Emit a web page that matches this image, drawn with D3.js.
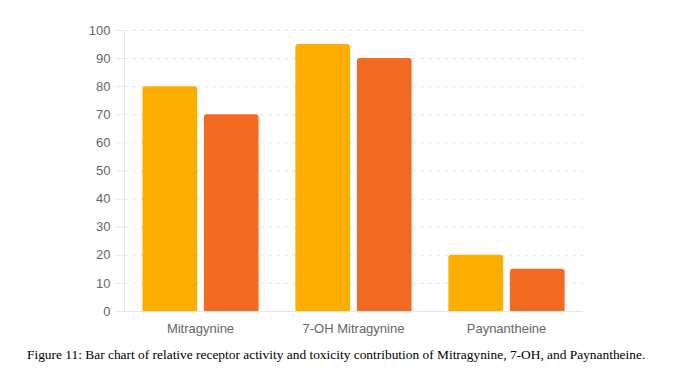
<!DOCTYPE html>
<html>
<head>
<meta charset="utf-8">
<script src="https://cdn.jsdelivr.net/npm/d3@7"></script>
<style>
  body { margin: 0; background: #fff; }
  #chart { width: 683px; height: 383px; }
</style>
</head>
<body>
<div id="chart"></div>
<script>
const CATEGORIES = ["Mitragynine", "7-OH Mitragynine", "Paynantheine"];
const SERIES_NAMES = ["Receptor activity", "Toxicity contribution"];
const RECEPTOR_ACTIVITY = [80, 95, 20];
const TOXICITY = [70, 90, 15];
const Y_TICKS = [0, 10, 20, 30, 40, 50, 60, 70, 80, 90, 100];
const CAPTION = "Figure 11: Bar chart of relative receptor activity and toxicity contribution of Mitragynine, 7-OH, and Paynantheine.";

const COLORS = ["#FFAE00", "#F36B23"];
const W = 683, H = 383;
const X_LEFT = 124, X_RIGHT = 583, Y_TOP = 30, Y_BOTTOM = 311;

const svg = d3.select("#chart").append("svg")
  .attr("width", W)
  .attr("height", H);

const xScale = d3.scaleBand().domain(CATEGORIES).range([X_LEFT, X_RIGHT]).paddingInner(0.2).paddingOuter(0.1);
const xInner = d3.scaleBand().domain(SERIES_NAMES).range([0, xScale.bandwidth()]).paddingInner(0.11).paddingOuter(0.05);
const yScale = d3.scaleLinear().domain([0, 100]).range([Y_BOTTOM, Y_TOP]);

// grid lines
svg.append("g")
  .selectAll("line")
  .data(Y_TICKS.filter(d => d > 0))
  .join("line")
  .attr("x1", X_LEFT)
  .attr("x2", X_RIGHT)
  .attr("y1", d => yScale(d) + 0.5)
  .attr("y2", d => yScale(d) + 0.5)
  .attr("stroke", "#e6e6e6")
  .attr("stroke-dasharray", "4,4");

// y axis
const yAxis = svg.append("g")
  .attr("transform", `translate(${X_LEFT + 0.5},0)`)
  .call(d3.axisLeft(yScale).tickValues(Y_TICKS).tickSize(9).tickPadding(5));
yAxis.select(".domain").attr("stroke", "#e6e6e6").attr("d", `M0,${Y_TOP}V${Y_BOTTOM}`);
yAxis.selectAll(".tick line").attr("stroke", "#e6e6e6");
yAxis.selectAll(".tick text")
  .attr("fill", "#666")
  .style("font-family", "Arial, 'Liberation Sans', sans-serif")
  .style("font-size", "13px");

// bars
const data = [];
CATEGORIES.forEach((c, i) => {
  data.push({cat: c, series: SERIES_NAMES[0], value: RECEPTOR_ACTIVITY[i], color: COLORS[0]});
  data.push({cat: c, series: SERIES_NAMES[1], value: TOXICITY[i], color: COLORS[1]});
});

function topRoundedRect(x, y, w, h, r) {
  return `M${x},${y + h}V${y + r}Q${x},${y} ${x + r},${y}H${x + w - r}Q${x + w},${y} ${x + w},${y + r}V${y + h}Z`;
}

svg.append("g")
  .selectAll("path")
  .data(data)
  .join("path")
  .attr("d", d => {
    const x = xScale(d.cat) + xInner(d.series);
    const y = yScale(d.value);
    return topRoundedRect(x, y, xInner.bandwidth(), Y_BOTTOM - y, 3);
  })
  .attr("fill", d => d.color);

// x axis baseline
svg.append("line")
  .attr("x1", X_LEFT)
  .attr("x2", X_RIGHT)
  .attr("y1", Y_BOTTOM + 0.5)
  .attr("y2", Y_BOTTOM + 0.5)
  .attr("stroke", "#e6e6e6");

// category labels
svg.append("g")
  .selectAll("text")
  .data(CATEGORIES)
  .join("text")
  .attr("x", d => xScale(d) + xScale.bandwidth() / 2)
  .attr("y", 333)
  .attr("text-anchor", "middle")
  .attr("fill", "#666")
  .style("font-family", "Arial, 'Liberation Sans', sans-serif")
  .style("font-size", "13px")
  .text(d => d);

// caption
svg.append("text")
  .attr("x", 27)
  .attr("y", 359)
  .attr("fill", "#000")
  .style("font-family", "'Liberation Serif', 'Times New Roman', serif")
  .style("font-size", "13.4px")
  .text(CAPTION);
</script>
</body>
</html>
